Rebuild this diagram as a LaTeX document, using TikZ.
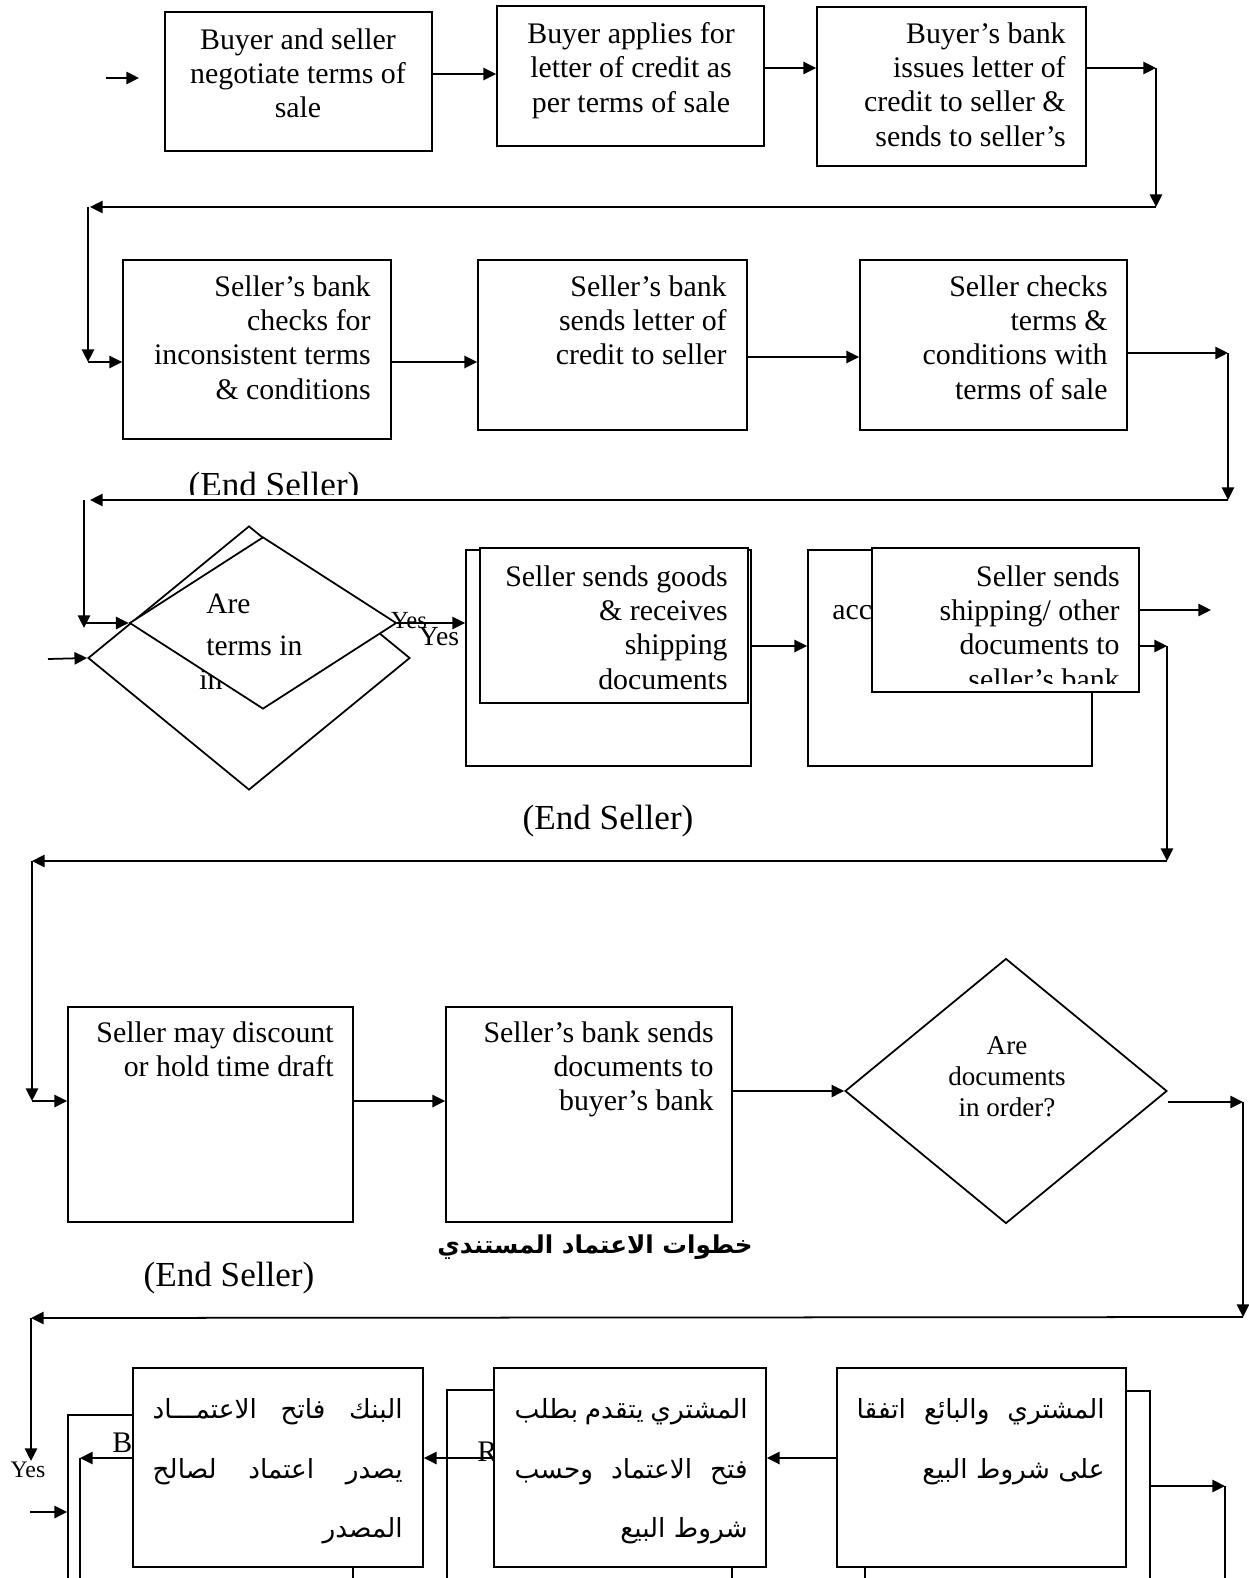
\documentclass[tikz,border=0pt]{standalone}
\usepackage{fontspec}
\setmainfont{Liberation Serif}
\newfontfamily\arabicfont[Script=Arabic]{DejaVu Sans}
\TeXXeTstate=1
\usetikzlibrary{arrows.meta, shapes.geometric, positioning, fit}

\tikzset{
  box/.style={draw, fill=white, line width=1pt, inner sep=0pt},
  dia/.style={draw, fill=white, diamond, line width=1pt, inner sep=0pt},
  arr/.style={-{Triangle[length=7.2pt, width=7pt]}, line width=1pt},
  conn/.style={line width=1pt},
  txt/.style={font=\fontsize{17}{19.6}\selectfont, inner sep=0pt},
  qtxt/.style={font=\fontsize{15.4}{17.6}\selectfont, inner sep=0pt, align=center},
  endtxt/.style={font=\fontsize{20}{24}\selectfont, inner sep=0pt},
  artxt/.style={font=\arabicfont\fontsize{15}{34}\selectfont, inner sep=0pt, align=right},
}

\begin{document}
\begin{tikzpicture}[x=0.02cm, y=-0.02cm]
  \useasboundingbox (0,0) rectangle (1248,1578);

  % row 1
  \node[box, fit={(165,12) (432,151)}] (b1) {};
  \node[txt, align=center, anchor=north] (b1t) at (298,28) {Buyer and seller\\negotiate terms of\\sale};
  \node[box, fit={(497,6) (764,146)}] (b2) {};
  \node[txt, align=center, anchor=north] (b2t) at (631,22) {Buyer applies for\\letter of credit as\\per terms of sale};
  \node[box, fit={(817,7) (1086,166)}] (b3) {};
  \node[txt, align=right, anchor=north east] (b3t) at (1066,22) {Buyer’s bank\\issues letter of\\credit to seller \&\\sends to seller’s};

  \coordinate (s1) at (106,78);
  \coordinate (s1e) at (139,78);
  \draw[arr] (s1) -- (s1e);
  \draw[arr] (b1.east |- 0,74) -- (b2.west |- 0,74);
  \draw[arr] (b2.east |- 0,68) -- (b3.west |- 0,68);
  \coordinate (k1) at (1156,68);
  \coordinate (k2) at (1156,207);
  \coordinate (k3) at (90,207);
  \coordinate (k3b) at (88,207);
  \coordinate (k4) at (88,362);
  \draw[arr] (b3.east |- k1) -- (k1);
  \draw[arr] (k1) -- (k2);
  \draw[arr] (k2) -- (k3);
  \draw[arr] (k3b) -- (k4);

  % row 2
  \node[box, fit={(123,260) (391,439)}] (b4) {};
  \node[txt, align=right, anchor=north east] (b4t) at (371,275) {Seller’s bank\\checks for\\inconsistent terms\\\& conditions};
  \node[box, fit={(478,260) (747,430)}] (b5) {};
  \node[txt, align=right, anchor=north east] (b5t) at (727,275) {Seller’s bank\\sends letter of\\credit to seller};
  \node[box, fit={(860,260) (1127,430)}] (b6) {};
  \node[txt, align=right, anchor=north east] (b6t) at (1108,275) {Seller checks\\terms \&\\conditions with\\terms of sale};

  \draw[arr] (k4) -- (b4.west |- k4);
  \draw[arr] (b4.east |- 0,362) -- (b5.west |- 0,362);
  \draw[arr] (b5.east |- 0,357) -- (b6.west |- 0,357);
  \coordinate (k5) at (1228,353);
  \coordinate (k6) at (1228,500);
  \coordinate (k7) at (90,500);
  \coordinate (k7b) at (84,500);
  \coordinate (k8) at (84,628);
  \coordinate (k8b) at (84,623);
  \draw[arr] (b6.east |- k5) -- (k5);
  \draw[arr] (k5) -- (k6);
  \draw[arr] (k6) -- (k7);
  \draw[arr] (k7b) -- (k8);

  \begin{scope}
    \clip (150,440) rectangle (400,494);
    \node[endtxt, anchor=base] (end1) at (274,496) {(End Seller)};
  \end{scope}

  % row 3
  \node[dia, minimum width=6.44cm, minimum height=5.28cm] (q1) at (249,658) {};
  \node[txt, anchor=west] (q1t) at (199,680) {in};
  \node[dia, minimum width=5.34cm, minimum height=3.44cm] (q2) at (263,623) {};
  \node[txt, align=left, anchor=north west, font=\fontsize{16.8}{23.8}\selectfont] (q2t) at (206,594) {Are\\terms in};
  \coordinate (s3) at (48,659);
  \draw[arr] (s3) -- (q1.west);
  \draw[arr] (k8b) -- (q2.west);

  \node[box, fit={(466,550) (751,766)}] (ba) {};
  \node[box, fit={(480,548) (748,703)}] (fa) {};
  \node[txt, align=right, anchor=north east] (fat) at (728,565) {Seller sends goods\\\& receives\\shipping\\documents};
  \draw[arr] (q2.east) -- (ba.west |- q2.east);
  \node[inner sep=0pt, font=\fontsize{14}{16}\selectfont] (yes1) at (409,621) {Yes};
  \node[inner sep=0pt, font=\fontsize{15.7}{18}\selectfont] (yes2) at (439,637) {Yes};

  \node[box, fit={(808,550) (1092,766)}] (bb) {};
  \node[txt, anchor=west] (bbt) at (832,613) {acc};
  \node[box, fit={(872,548) (1139,692)}] (fb) {};
  \begin{scope}
    \clip (872,548) rectangle (1139,683);
    \node[txt, align=right, anchor=north east] (fbt) at (1120,565) {Seller sends\\shipping/ other\\documents to\\seller’s bank};
  \end{scope}

  \draw[arr] (ba.east |- 0,646) -- (bb.west |- 0,646);
  \coordinate (k9) at (1211,610);
  \draw[arr] (fb.east |- k9) -- (k9);
  \coordinate (k10) at (1167,646);
  \coordinate (k11) at (1167,861);
  \coordinate (k12) at (32,861);
  \coordinate (k13) at (32,1101);
  \draw[arr] (fb.east |- k10) -- (k10);
  \draw[arr] (k10) -- (k11);
  \draw[arr] (k11) -- (k12);
  \draw[arr] (k12) -- (k13);

  \node[endtxt] (end2) at (608,821) {(End Seller)};

  % row 4
  \node[box, fit={(68,1007) (353,1222)}] (c1) {};
  \node[txt, align=right, anchor=north east] (c1t) at (334,1021) {Seller may discount\\or hold time draft};
  \node[box, fit={(446,1007) (732,1222)}] (d1) {};
  \node[txt, align=right, anchor=north east] (d1t) at (714,1021) {Seller’s bank sends\\documents to\\buyer’s bank};
  \node[dia, minimum width=6.44cm, minimum height=5.3cm] (q3) at (1006,1091) {};
  \node[qtxt, anchor=north] (q3t) at (1007,1036) {Are\\documents\\in order?};

  \draw[arr] (k13) -- (c1.west |- k13);
  \draw[arr] (c1.east |- k13) -- (d1.west |- k13);
  \draw[arr] (d1.east |- q3.west) -- (q3.west);
  \coordinate (k15) at (1243,1102);
  \coordinate (k16) at (1243,1317);
  \coordinate (k17) at (31,1318);
  \coordinate (k18) at (31,1461);
  \draw[arr] (q3.east |- k15) -- (k15);
  \draw[arr] (k15) -- (k16);
  \draw[arr] (k16) -- (k17);
  \draw[arr] (k17) -- (k18);
  \node[inner sep=0pt, font=\fontsize{13.5}{16}\selectfont] (yes3) at (28,1470) {Yes};

  \node[inner sep=0pt, font=\arabicfont\bfseries\fontsize{14}{17}\selectfont] (title) at (595,1247) {\beginR خطوات الاعتماد المستندي\endR};
  \node[endtxt] (end3) at (229,1278) {(End Seller)};

  % row 5
  \node[box, fit={(68,1415) (353,1640)}] (e1) {};
  \node[txt, anchor=west] (e1t) at (112,1443) {B};
  \node[box, fit={(133,1368) (423,1567)}] (f1) {};
  \node[artxt, anchor=north east] (f1t) at (403,1398) {\hbox to 5cm{\beginR البنك\hfill فاتح\hfill الاعتمـــاد\endR}\\\hbox to 5cm{\beginR يصدر\hfill اعتماد\hfill لصالح\endR}\\\beginR المصدر\endR};

  \node[box, fit={(447,1390) (732,1640)}] (g0) {};
  \node[txt, anchor=west] (g0t) at (477,1452) {R};
  \node[box, fit={(494,1368) (766,1567)}] (g1) {};
  \node[artxt, anchor=north east] (g1t) at (748,1398) {\hbox to 4.66cm{\beginR المشتري\hfill يتقدم\hfill بطلب\endR}\\\hbox to 4.66cm{\beginR فتح\hfill الاعتماد\hfill وحسب\endR}\\\beginR شروط البيع\endR};

  \node[box, fit={(865,1391) (1150,1640)}] (h0) {};
  \node[box, fit={(837,1368) (1126,1567)}] (h1) {};
  \node[artxt, anchor=north east] (h1t) at (1105,1398) {\hbox to 4.96cm{\beginR المشتري\hfill والبائع\hfill اتفقا\endR}\\\beginR على شروط البيع\endR};

  \coordinate (s5) at (30,1512);
  \draw[arr] (s5) -- (e1.west |- s5);
  \coordinate (k19) at (80,1458);
  \coordinate (k20) at (80,1578);
  \draw[arr] (f1.west |- k19) -- (k19);
  \draw[conn] (k19) -- (k20);
  \draw[arr] (g1.west |- k19) -- (f1.east |- k19);
  \draw[arr] (h1.west |- k19) -- (g1.east |- k19);
  \coordinate (k21) at (1225,1486);
  \coordinate (k22) at (1225,1578);
  \draw[arr] (h0.east |- k21) -- (k21);
  \draw[conn] (k21) -- (k22);
\end{tikzpicture}
\end{document}
